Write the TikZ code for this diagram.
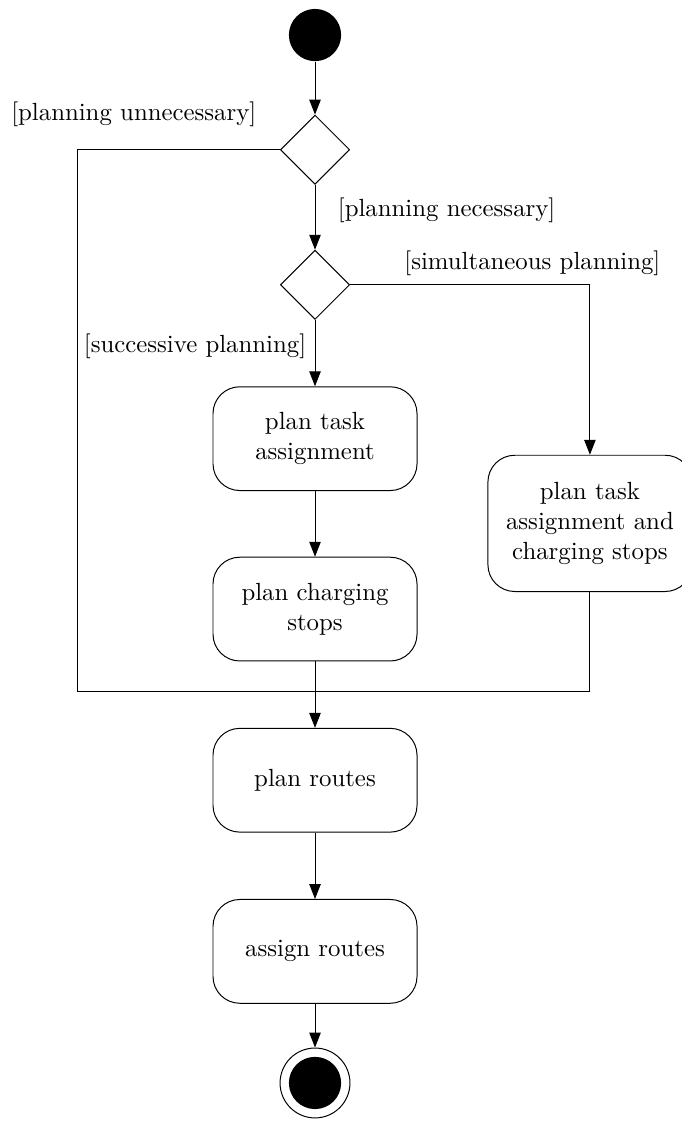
\documentclass[tikz,border=0pt]{standalone}
\usetikzlibrary{shapes.geometric, arrows.meta, positioning}
\tikzset{
    initial/.style={circle, fill=black, minimum size=7.4mm, inner sep=0pt},
    final/.style={circle, draw, minimum size=9.9mm, inner sep=0pt,
                  path picture={\fill (path picture bounding box.center) circle (3.7mm);}},
    action/.style={rectangle, draw, rounded corners=3.8mm, minimum width=2.89cm,
                   minimum height=1.47cm, align=center},
    branch/.style={diamond, draw, minimum width=9.8mm, minimum height=9.8mm,
                   inner sep=0pt, aspect=1},
    arrow/.style={-{Triangle[length=6pt, width=4.6pt]}},
}

\begin{document}
\begin{tikzpicture}[node distance=0.94cm]

    \useasboundingbox (-4.462,0.496) rectangle (5.184,-15.623);

    % -- main column --
    \node[initial] (start) at (0,0) {};
    \node[branch, below=0.75cm of start] (d1) {};
    \node[branch, below=0.92cm of d1] (d2) {};
    \node[action, below=0.94cm of d2] (tasks) {plan task\\assignment};
    \node[action, below=0.93cm of tasks] (stops) {plan charging\\stops};
    \node[action, below=of stops] (routes) {plan routes};
    \node[action, below=of routes] (assign) {assign routes};
    \node[final, below=0.62cm of assign] (end) {};

    % -- simultaneous branch --
    \node[action, right=0.99cm of tasks, yshift=-1.2cm, minimum height=1.93cm]
        (both) {plan task\\assignment and\\charging stops};

    % -- join --
    \coordinate[below=0.42cm of stops] (join);
    \coordinate[left=3.37cm of join] (lc);
    \coordinate (rc) at (join -| both);

    % -- flows --
    \draw[arrow] (start) -- (d1);
    \draw[arrow] (d1) -- node[right=2mm, pos=0.4]{[planning necessary]} (d2);
    \draw[arrow] (d2) -- node[left, pos=0.4]{[successive planning]} (tasks);
    \draw[arrow] (d2.east) -| node[above, pos=0.38]{[simultaneous planning]} (both.north);
    \draw[arrow] (tasks) -- (stops);
    \draw[arrow] (stops) -- (routes);
    \draw[arrow] (routes) -- (assign);
    \draw[arrow] (assign) -- (end);

    \draw (d1.west) -| node[pos=0, above left=0.2cm and 0.21cm]{[planning unnecessary]} (lc)
        -- (rc) -- (both.south);

\end{tikzpicture}
\end{document}
